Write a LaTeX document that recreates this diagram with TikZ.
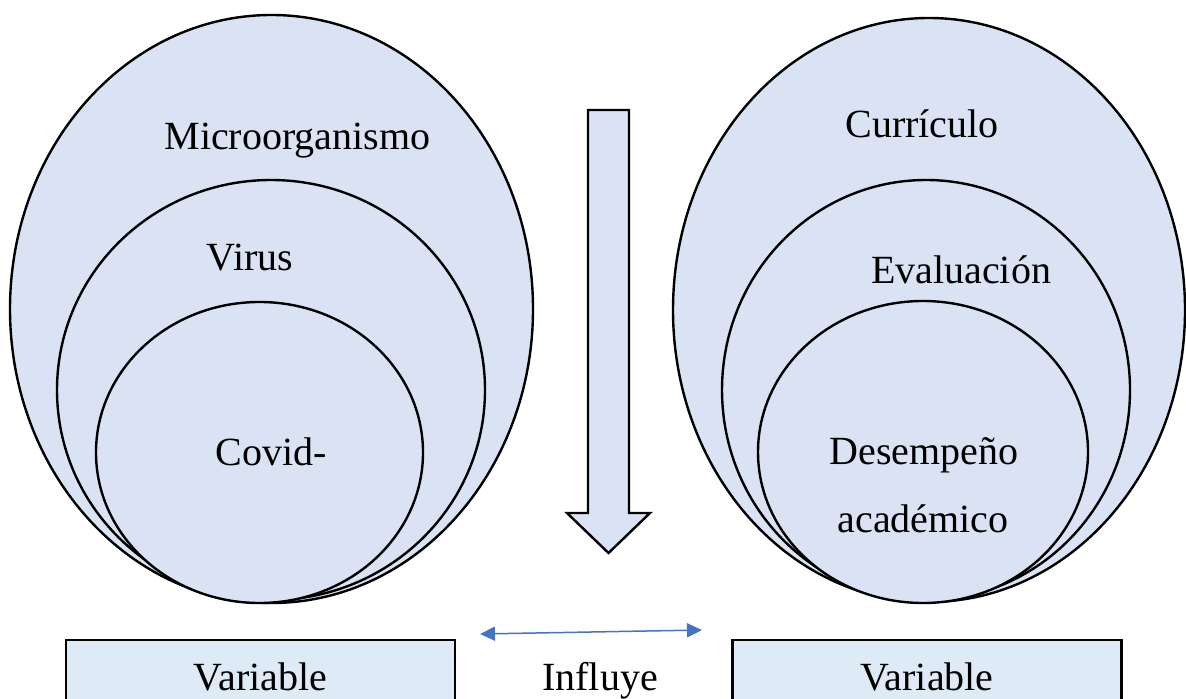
\documentclass[tikz,border=0pt]{standalone}
\usepackage{fontspec}
\setmainfont{Liberation Serif}
\usetikzlibrary{positioning,arrows.meta,shapes.geometric}
\definecolor{bubble}{RGB}{218,227,243}
\definecolor{boxfill}{RGB}{222,235,247}
\definecolor{linkblue}{RGB}{68,114,196}

\begin{document}
\begin{tikzpicture}[x=0.5pt,y=-0.5pt,>={Triangle[length=7.5pt,width=7pt]},
  every node/.style={font=\fontsize{20}{24}\selectfont},
  set/.style={ellipse,draw,line width=1.2pt,fill=bubble,inner sep=0pt},
  varbox/.style={draw,line width=1.2pt,fill=boxfill,minimum width=194.5pt,minimum height=36.5pt}]
\useasboundingbox (0,0) rectangle (1186,699);
\clip (0,0) rectangle (1186,699);
% left sets
\node[set,minimum width=261.5pt,minimum height=294pt] (micro) at (271.5,309) {};
\node[set,minimum width=214pt,minimum height=210pt] (virus) at (271,390) {};
\node[set,minimum width=163.5pt,minimum height=150.5pt] (covid) at (259.5,452.5) {};
\node[anchor=base] (tmicro) at (297.5,150) {Microorganismo};
\node[anchor=base] (tvirus) at (250,271) {Virus};
\node[anchor=base] (tcovid) at (271,465) {Covid-};
% right sets
\node[set,minimum width=256pt,minimum height=292pt] (curri) at (929,310) {};
\node[set,minimum width=204pt,minimum height=210pt] (eval) at (926,390) {};
\node[set,minimum width=165pt,minimum height=151pt] (desem) at (923,452) {};
\node[anchor=base] (tcurri) at (922,138) {Currículo};
\node[anchor=base] (teval) at (961,284) {Evaluación};
\node[anchor=base] (tdesem) at (924,464) {Desempeño};
\node[anchor=base] (tacad) at (923,532) {académico};
% down arrow
\draw[line width=1.2pt,fill=bubble] (588,110) -- (629,110) -- (629,513) -- (650,513)
  -- (608.5,553) -- (567,513) -- (588,513) -- cycle;
% bottom row
\node[varbox] (vleft) at (260.5,676.5) {Variable};
\node[varbox] (vright) at (927,676.5) {Variable};
\node[anchor=base] (influye) at (600,690) {Influye};
\coordinate (lend) at (480,634);
\coordinate (rend) at (702,630);
\draw[<->,linkblue,line width=0.75pt] (lend) -- (rend);
\end{tikzpicture}
\end{document}
